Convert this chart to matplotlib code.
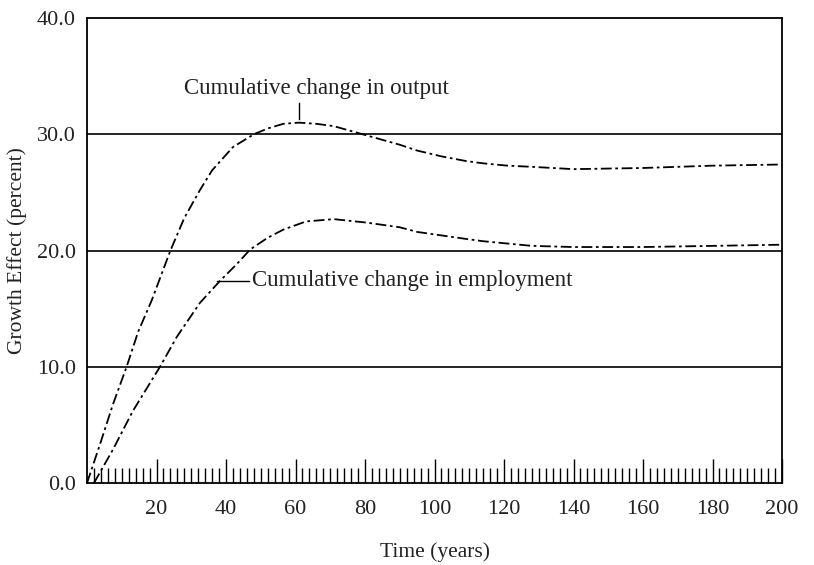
import numpy as np
import matplotlib
matplotlib.use("Agg")
import matplotlib.pyplot as plt

plt.rcParams['font.family'] = ['Liberation Serif', 'DejaVu Serif']

# values
t_out = [0, 3.7, 7.5, 11.4, 14.7, 18.6, 24, 28, 32.5, 36, 42, 48, 52, 56.5, 61, 66, 71, 80.5, 90, 95, 102, 109, 114, 121, 128, 140, 160, 180, 200]
output = [0, 3.3, 6.8, 10.0, 13.0, 15.7, 20.0, 22.8, 25.2, 26.9, 28.9, 30.0, 30.5, 30.9, 31.0, 30.9, 30.7, 29.9, 29.1, 28.6, 28.1, 27.7, 27.5, 27.3, 27.2, 27.0, 27.1, 27.3, 27.4]

t_emp = [2, 7.5, 13.2, 21, 25.9, 32.5, 38.3, 43, 47, 52, 56.5, 63, 71, 80.5, 90, 95, 102, 109, 114, 121, 128, 140, 160, 180, 200]
employment = [0, 2.9, 6.2, 10.0, 12.6, 15.5, 17.4, 18.8, 20.1, 21.1, 21.8, 22.5, 22.7, 22.4, 22.0, 21.6, 21.3, 21.0, 20.8, 20.6, 20.4, 20.3, 20.3, 20.4, 20.5]

xticks = [20, 40, 60, 80, 100, 120, 140, 160, 180, 200]
yticks = [0, 10, 20, 30, 40]

fig = plt.figure(figsize=(8.14, 5.65), dpi=100)
ax = fig.add_axes([0.1069, 0.1451, 0.8538, 0.8230])

for v in yticks[1:-1]:
    ax.axhline(v, color='black', lw=1.2, zorder=1)

ls = (0, (6, 2, 1.5, 2))
ax.plot(t_out, output, color='black', lw=1.3, linestyle=ls, zorder=2)
ax.plot(t_emp, employment, color='black', lw=1.3, linestyle=ls, zorder=2)

ax.set_xlim(0, 200)
ax.set_ylim(0, 40)
ax.set_xticks(xticks)
ax.set_xticks(np.arange(2, 200, 2), minor=True)
ax.set_yticks(yticks)
ax.set_yticklabels(['%.1f' % v for v in yticks])
ax.tick_params(axis='x', which='major', direction='in', length=17, width=1.0, pad=12, labelsize=16, labelcolor='#222222')
ax.tick_params(axis='x', which='minor', direction='in', length=11, width=1.0)
ax.tick_params(axis='y', length=0, pad=8, labelsize=16, labelcolor='#222222')
for s in ax.spines.values():
    s.set_linewidth(1.3)

ax.set_xlabel('Time (years)', fontsize=15.5, labelpad=17, color='#222222')
ax.set_ylabel('Growth Effect (percent)', fontsize=15.5, color='#222222')
ax.yaxis.set_label_coords(-0.086, 0.5)

ax.text(66, 33.9, 'Cumulative change in output', fontsize=16.5, ha='center', va='center', color='#222222')
ax.plot([61, 61], [31.3, 32.7], color='black', lw=1.0)
ax.text(47.5, 17.4, 'Cumulative change in employment', fontsize=16.5, ha='left', va='center', color='#222222')
ax.plot([37.5, 46.5], [17.4, 17.4], color='black', lw=1.0)

fig.savefig('out.png', dpi=100)
